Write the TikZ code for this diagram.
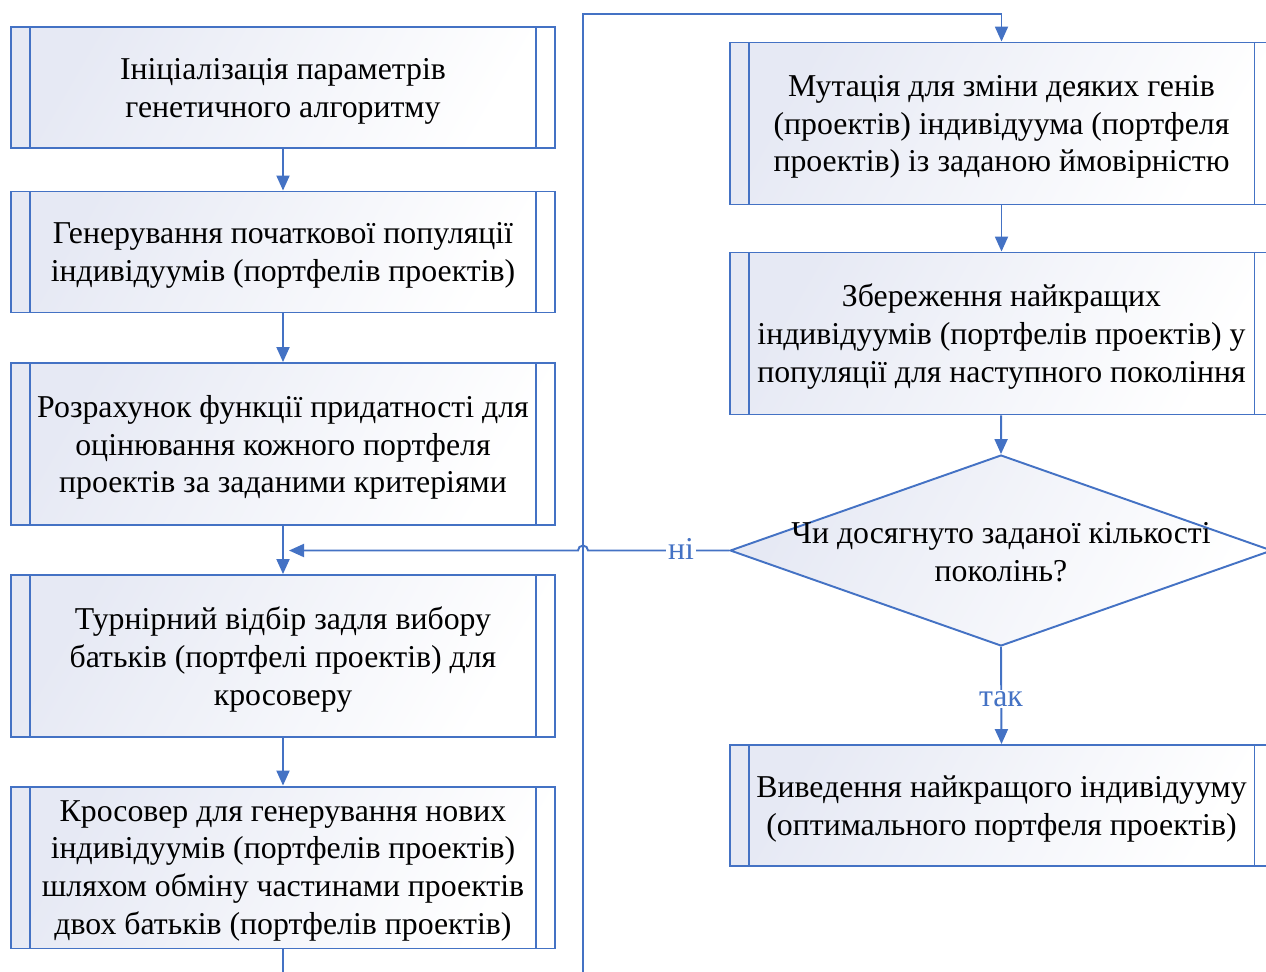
\documentclass[tikz,border=0pt]{standalone}
\usepackage{fontspec}
\setmainfont{Liberation Serif}
\usetikzlibrary{shapes.geometric,arrows.meta}
\definecolor{flowblue}{HTML}{4472C4}
\definecolor{boxtint}{HTML}{E6E9F4}
\newcommand{\flowfont}{\fontsize{18.1pt}{21.6pt}\selectfont}
\tikzset{
  flowline/.style={draw=flowblue, line width=1.1pt},
  arr/.style={flowline, -{Triangle[width=0.26cm,length=0.3cm]}},
  procbox/.style={flowline, rectangle, inner sep=0pt, align=center,
    minimum width=10.88cm, left color=boxtint, right color=white, shading angle=60,
    font=\flowfont, text depth=-0.1cm,
    path picture={
      \draw[flowblue, line width=1.1pt]
        ([xshift=0.38cm]path picture bounding box.north west) --
        ([xshift=0.38cm]path picture bounding box.south west);
      \draw[flowblue, line width=1.1pt]
        ([xshift=-0.38cm]path picture bounding box.north east) --
        ([xshift=-0.38cm]path picture bounding box.south east);
    }},
  short/.style={minimum height=2.42cm},
  tall/.style={minimum height=3.24cm},
  decision/.style={flowline, diamond, inner sep=0pt, minimum width=10.84cm,
    minimum height=3.82cm, left color=boxtint, right color=white, shading angle=60},
  plaintext/.style={align=center, font=\flowfont},
  edgelabel/.style={text=flowblue, fill=white, inner sep=1pt, font=\flowfont}
}
\begin{document}
\begin{tikzpicture}[x=0.02cm, y=-0.02cm]
\useasboundingbox (0,0) rectangle (1266,971);

% left column
\node[procbox, short] (init) at (283,87.5) {Ініціалізація параметрів\\генетичного алгоритму};
\node[procbox, short] (gen) at (283,252) {Генерування початкової популяції\\індивідуумів (портфелів проектів)};
\node[procbox, tall] (fit) at (283,444) {Розрахунок функції придатності для\\оцінювання кожного портфеля\\проектів за заданими критеріями};
\node[procbox, tall] (tour) at (283,656) {Турнірний відбір задля вибору\\батьків (портфелі проектів) для\\кросоверу};
\node[procbox, tall] (cross) at (283,867.5) {Кросовер для генерування нових\\індивідуумів (портфелів проектів)\\шляхом обміну частинами проектів\\двох батьків (портфелів проектів)};

% right column
\node[procbox, tall] (mut) at (1001.5,123.5) {Мутація для зміни деяких генів\\(проектів) індивідуума (портфеля\\проектів) із заданою ймовірністю};
\node[procbox, tall] (keep) at (1001.5,333.5) {Збереження найкращих\\індивідуумів (портфелів проектів) у\\популяції для наступного покоління};
\node[decision] (check) at (1001,550.5) {};
\node[plaintext] (checktext) at (1001,552) {Чи досягнуто заданої кількості\\поколінь?};
\node[procbox, short] (out) at (1001.5,805.5) {Виведення найкращого індивідууму\\(оптимального портфеля проектів)};

% connectors
\coordinate (loopa) at (283,1000);
\coordinate (loopb) at (583,1000);
\coordinate (loopc) at (583,14);
\coordinate (loopd) at (1001.5,14);
\coordinate (notip) at (289,550.5);
\coordinate (hopr) at (588,550.5);

\draw[arr] (init) -- (gen);
\draw[arr] (gen) -- (fit);
\draw[arr] (fit) -- (tour);
\draw[arr] (tour) -- (cross);
\draw[arr] (cross.south) -- (loopa) -- (loopb) -- (loopc) -- (loopd) -- (mut.north);
\draw[arr] (mut) -- (keep);
\draw[arr] (keep) -- (check.north);
% the "no" branch hops over the vertical return line
\draw[arr] (check.west) -- (hopr) arc[start angle=0, end angle=-180, radius=5] -- (notip);
\node[edgelabel] (nolabel) at (681,549) {ні};
\draw[arr] (check.south) -- (out.north);
\node[edgelabel] (yeslabel) at (1001,699) {так};
\end{tikzpicture}
\end{document}
